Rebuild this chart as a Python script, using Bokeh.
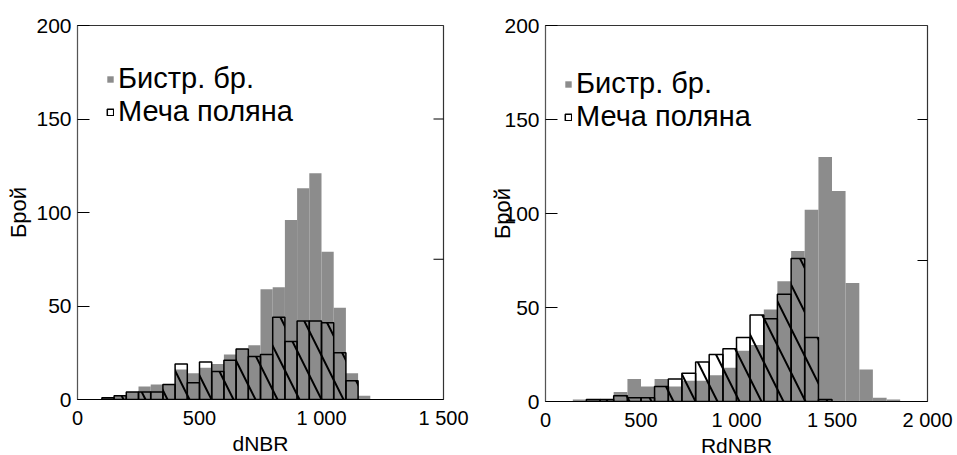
from bokeh.plotting import figure
from bokeh.layouts import row
from bokeh.models import FixedTicker, Legend, LegendItem, Range1d
from bokeh.embed import file_html
from bokeh.resources import INLINE

# ---------------- data ----------------
series_names = ["Бистр. бр.", "Меча поляна"]

# dNBR histogram (bin edges and counts)
dnbr_edges = [100, 150, 200, 250, 300, 350, 400, 450, 500, 550, 600, 650,
              700, 750, 800, 850, 900, 950, 1000, 1050, 1100, 1150, 1200]
dnbr_fast = [1, 2, 4, 7, 8, 8, 16, 14, 17, 19, 24, 27, 29, 59, 60, 96,
             113, 121, 79, 49, 14, 2]
dnbr_sword = [1, 2, 4, 4, 4, 8, 19, 9, 20, 15, 21, 27, 23, 24, 44, 31,
              42, 42, 41, 25, 10, 0]

# RdNBR histogram (bin edges and counts)
rdnbr_edges = [143, 214, 286, 357, 429, 500, 571, 643, 714, 786, 857, 929,
               1000, 1071, 1143, 1214, 1286, 1357, 1429, 1500, 1571, 1643,
               1714, 1786, 1857]
rdnbr_fast = [1, 1, 1, 5, 12, 8, 12, 8, 11, 11, 14, 18, 27, 30, 49, 64,
              80, 102, 130, 112, 63, 17, 2, 1]
rdnbr_sword = [0, 1, 1, 3, 2, 2, 8, 12, 15, 21, 25, 28, 34, 46, 44, 57,
               76, 34, 1, 0, 0, 0, 0, 0]

y_ticks = [0, 50, 100, 150, 200]
right_ticks = [75, 150]
dnbr_ticks = [0, 500, 1000, 1500]
dnbr_tick_labels = ["0", "500", "1 000", "1 500"]
rdnbr_ticks = [0, 500, 1000, 1500, 2000]
rdnbr_tick_labels = ["0", "500", "1 000", "1 500", "2 000"]

# ---------------- style ----------------
FONT = "Liberation Sans"
GRAY = "#8c8c8c"


def panel(edges, fast, sword, xmax, xticks, xlabels, xtitle,
          bl, fw, br, bt, fh, bb, ylab_standoff, leg_loc):
    p = figure(frame_width=fw, frame_height=fh,
               min_border_left=bl, min_border_right=br,
               min_border_top=bt, min_border_bottom=bb,
               x_range=Range1d(0, xmax), y_range=Range1d(0, 200),
               output_backend="svg", toolbar_location=None)
    p.grid.visible = False
    p.background_fill_color = "white"
    p.border_fill_color = "white"
    p.outline_line_color = "#333333"
    p.outline_line_width = 1.2

    left = edges[:-1]
    right = edges[1:]
    r1 = p.quad(left=left, right=right, top=fast, bottom=0,
                fill_color=GRAY, line_color=None)
    sl = [l for l, v in zip(left, sword) if v > 0]
    sr = [r for r, v in zip(right, sword) if v > 0]
    sv = [v for v in sword if v > 0]
    r2 = p.quad(left=sl, right=sr, top=sv, bottom=0,
                fill_alpha=0, line_color="black", line_width=1.5,
                hatch_pattern="\\", hatch_color="black",
                hatch_weight=2, hatch_scale=44, hatch_alpha=1)

    # inward tick marks on the right border
    p.scatter(x=[xmax] * len(right_ticks), y=right_ticks, marker="dash",
              size=20, line_color="black", line_width=1)

    # axes
    xa = p.xaxis[0]
    xa.ticker = FixedTicker(ticks=xticks)
    xa.major_label_overrides = {t: s for t, s in zip(xticks, xlabels)}
    xa.major_tick_in = 0
    xa.major_tick_out = 0
    xa.minor_tick_line_color = None
    xa.major_label_standoff = 7
    xa.major_label_text_font = FONT
    xa.major_label_text_font_size = "20px"
    xa.major_label_text_color = "black"
    xa.axis_label = xtitle
    xa.axis_label_text_font = FONT
    xa.axis_label_text_font_size = "21px"
    xa.axis_label_text_font_style = "normal"
    xa.axis_label_text_color = "black"
    xa.axis_label_standoff = 0
    xa.axis_line_color = "black"

    ya = p.yaxis[0]
    ya.ticker = FixedTicker(ticks=y_ticks)
    ya.major_tick_in = 12
    ya.major_tick_out = 0
    ya.major_tick_line_color = "black"
    ya.minor_tick_line_color = None
    ya.major_label_standoff = 6
    ya.major_label_text_font = FONT
    ya.major_label_text_font_size = "21px"
    ya.major_label_text_color = "black"
    ya.axis_label = "Брой"
    ya.axis_label_text_font = FONT
    ya.axis_label_text_font_size = "22px"
    ya.axis_label_text_font_style = "normal"
    ya.axis_label_text_color = "black"
    ya.axis_label_standoff = ylab_standoff
    ya.axis_line_color = "#555555"

    leg = Legend(items=[LegendItem(label=series_names[0], renderers=[r1]),
                        LegendItem(label=series_names[1], renderers=[r2])],
                 location=leg_loc, orientation="vertical",
                 glyph_width=8, glyph_height=8,
                 label_text_font=FONT, label_text_font_size="29px",
                 label_text_color="black",
                 label_height=31, label_standoff=4,
                 spacing=0, padding=0, margin=0,
                 border_line_alpha=0, background_fill_alpha=0)
    p.add_layout(leg)
    return p


p1 = panel(dnbr_edges, dnbr_fast, dnbr_sword, 1500, dnbr_ticks,
           dnbr_tick_labels, "dNBR",
           bl=77, fw=366, br=40, bt=25, fh=374, bb=55,
           ylab_standoff=2, leg_loc=(29, 271))
p2 = panel(rdnbr_edges, rdnbr_fast, rdnbr_sword, 2000, rdnbr_ticks,
           rdnbr_tick_labels, "RdNBR",
           bl=62, fw=382, br=28, bt=22, fh=376, bb=56,
           ylab_standoff=-14, leg_loc=(19, 268))

layout = row(p1, p2)
open("out.html", "w").write(file_html(layout, INLINE))
